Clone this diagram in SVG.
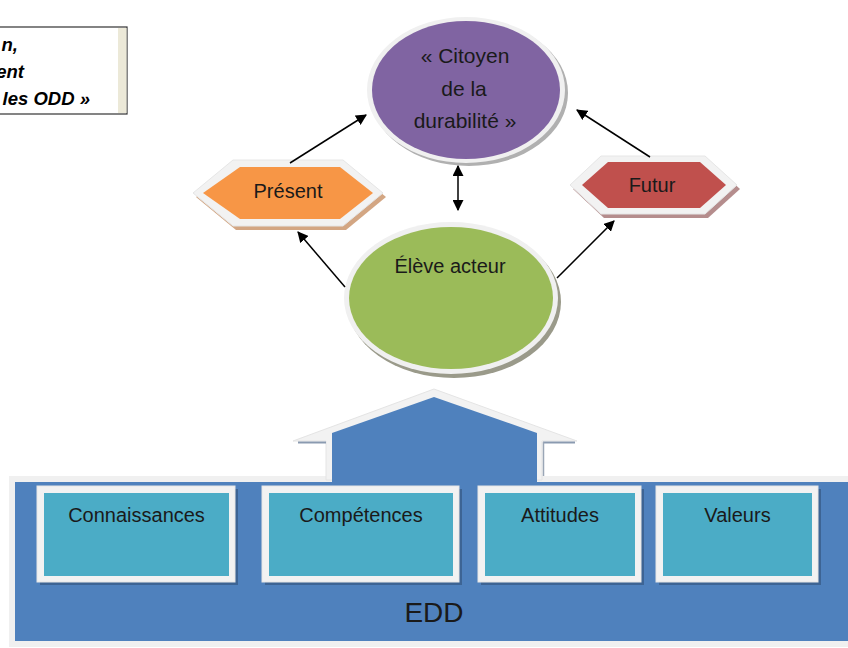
<svg xmlns="http://www.w3.org/2000/svg" width="848" height="648" viewBox="0 0 848 648">
<defs>
<style>
text{font-family:"Liberation Sans",Arial,sans-serif;fill:#1a1a1a;}
.lbl{font-size:20px;text-anchor:middle;}
.big{font-size:21px;text-anchor:middle;}
.note{font-size:18.5px;font-weight:bold;font-style:italic;text-anchor:end;fill:#000;}
.box-out{fill:#f2f2f2;stroke:#e6e6e6;stroke-width:1;}
.box-sh{fill:#3d6494;}
.box-in{fill:#4bacc6;}
.ln{stroke:#000;stroke-width:1.5;fill:none;}
</style>
<marker id="ah" viewBox="0 0 10 10" refX="9" refY="5" markerWidth="11" markerHeight="11" markerUnits="userSpaceOnUse" orient="auto-start-reverse">
<path d="M0,0 L10,5 L0,10 z" fill="#000"/>
</marker>
</defs>
<rect width="848" height="648" fill="#fff"/>

<g id="note">
<rect x="-2" y="27" width="129" height="87" fill="#fff" stroke="#333" stroke-width="1.2"/>
<rect x="118" y="28" width="8.5" height="85" fill="#ece9d8"/>
<text class="note" x="18" y="51">n,</text>
<text class="note" x="24" y="78">ent</text>
<text class="note" x="90" y="105">les ODD »</text>
</g>

<g id="edd">
<rect x="12" y="479" width="842" height="165" fill="#4f81bd" stroke="#f0f0f0" stroke-width="6"/>
<polygon points="293,441 434,389 577,441 542,441 542,480 326,480 326,441" fill="#f2f2f2" stroke="#e4e4e4" stroke-width="1"/>
<line x1="298" y1="442.5" x2="326" y2="442.5" stroke="#8a9ab0" stroke-width="2"/>
<line x1="543" y1="442.5" x2="575" y2="442.5" stroke="#8a9ab0" stroke-width="2"/>
<line x1="543.5" y1="442" x2="543.5" y2="476" stroke="#9aa6b6" stroke-width="1.5"/>
<polygon points="332,484 332,433 434,397 537,433 537,484" fill="#4f81bd"/>
<text x="434" y="622" style="font-size:28px;text-anchor:middle;">EDD</text>
</g>

<g id="connaissances">
<rect class="box-sh" x="40" y="489" width="198" height="96"/>
<rect class="box-out" x="37" y="486" width="198" height="96"/>
<rect class="box-in" x="44" y="493" width="185" height="83"/>
<text class="lbl" x="136.5" y="522">Connaissances</text>
</g>
<g id="competences">
<rect class="box-sh" x="265" y="489" width="197" height="96"/>
<rect class="box-out" x="262" y="486" width="197" height="96"/>
<rect class="box-in" x="269" y="493" width="184" height="83"/>
<text class="lbl" x="361" y="522">Compétences</text>
</g>
<g id="attitudes">
<rect class="box-sh" x="481" y="489" width="163" height="96"/>
<rect class="box-out" x="478" y="486" width="163" height="96"/>
<rect class="box-in" x="485" y="493" width="150" height="83"/>
<text class="lbl" x="560" y="522">Attitudes</text>
</g>
<g id="valeurs">
<rect class="box-sh" x="659" y="489" width="162" height="96"/>
<rect class="box-out" x="656" y="486" width="162" height="96"/>
<rect class="box-in" x="663" y="493" width="149" height="83"/>
<text class="lbl" x="737.5" y="522">Valeurs</text>
</g>

<g id="citoyen">
<ellipse cx="469" cy="93" rx="99" ry="73" fill="#b0b0b0"/>
<ellipse cx="466" cy="90" rx="99" ry="73" fill="#f0f0f0"/>
<ellipse cx="466" cy="90" rx="94" ry="69" fill="#8064a2"/>
<text class="big" x="465" y="63">« Citoyen</text>
<text class="big" x="464" y="96">de la</text>
<text class="big" x="465" y="128">durabilité »</text>
</g>

<g id="eleve">
<ellipse cx="454" cy="302" rx="107" ry="76" fill="#9a9a8a"/>
<ellipse cx="451" cy="298" rx="107" ry="76" fill="#f0f0f0"/>
<ellipse cx="451" cy="298" rx="102" ry="71" fill="#9bbb59"/>
<text class="lbl" x="450" y="273">Élève acteur</text>
</g>

<g id="present">
<polygon points="196,197 236,164 346,164 386,197 346,230 236,230" fill="#d3a683"/>
<polygon points="193,193 233,160 343,160 383,193 343,226 233,226" fill="#f2f2f2" stroke="#e6e6e6"/>
<polygon points="203,193 240,167 340,167 373,193 340,219 240,219" fill="#f79646"/>
<text class="lbl" x="288" y="198">Présent</text>
</g>

<g id="futur">
<polygon points="573,189 604,160 708,160 740,189 708,218 604,218" fill="#b58d8d"/>
<polygon points="570,185 601,156 705,156 737,185 705,214 601,214" fill="#f2f2f2" stroke="#e6e6e6"/>
<polygon points="582,185 608,162 700,162 726,185 700,208 608,208" fill="#c0504d"/>
<text class="lbl" x="652" y="192">Futur</text>
</g>

<g id="connectors">
<line class="ln" x1="290" y1="163" x2="366" y2="115" marker-end="url(#ah)"/>
<line class="ln" x1="650" y1="157" x2="577" y2="110" marker-end="url(#ah)"/>
<line class="ln" x1="458" y1="166" x2="458" y2="210" marker-start="url(#ah)" marker-end="url(#ah)"/>
<line class="ln" x1="345" y1="287" x2="298" y2="232" marker-end="url(#ah)"/>
<line class="ln" x1="557" y1="278" x2="614" y2="221" marker-end="url(#ah)"/>
</g>
</svg>
